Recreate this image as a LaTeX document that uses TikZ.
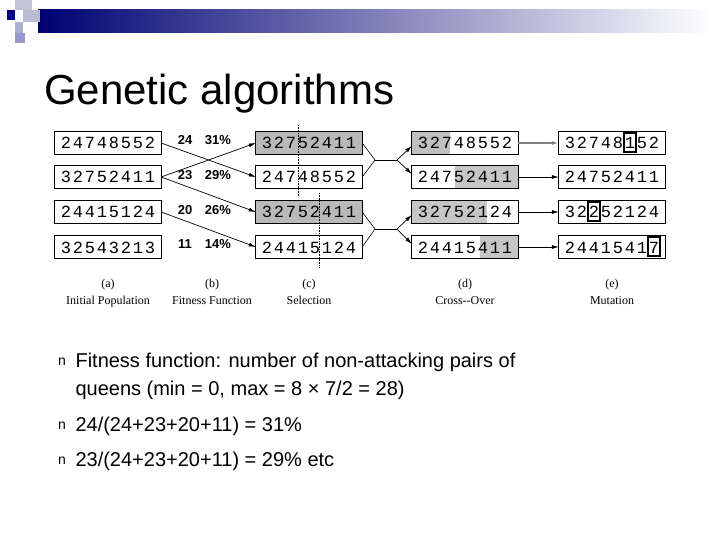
\documentclass[tikz,border=0pt]{standalone}
\usepackage{fontspec}
\setmainfont{Liberation Sans}
\newfontfamily\monof{Liberation Mono}
\newfontfamily\serf{Liberation Serif}
\usetikzlibrary{arrows.meta,calc}
\newcommand\digs[2]{\foreach \d [count=\i] in {#2}{\node[font=\monof\fontsize{17}{17}\selectfont,inner sep=0pt,anchor=base] at ($(#1)+(\i*12-54,6)$) {\d};}}
\begin{document}
\begin{tikzpicture}[x=1pt,y=-1pt,
  gbox/.style={minimum width=106pt,minimum height=22pt,inner sep=0pt},
  arr/.style={-{Latex[length=7pt,width=4pt]},line width=0.7pt},
  captxt/.style={font=\serf\fontsize{12}{13}\selectfont,anchor=base,inner sep=0pt},
  fittxt/.style={font=\bfseries\fontsize{13}{14}\selectfont,anchor=base,inner sep=0pt},
  bul/.style={font=\fontsize{20}{24}\selectfont,anchor=base west}]
\useasboundingbox (0,0) rectangle (720,540);
% header bar
\shade[left color=blue!45!black,right color=white] (38,10) rectangle (712,33);
\fill[blue!15!gray!40] (15,0) rectangle (32,10);
\fill[blue!20!gray!45] (23,10) rectangle (40,22);
\fill[blue!55!black] (7,10) rectangle (15,20);
\fill[blue!25!gray!50] (15,22) rectangle (23,33);
\fill[blue!35!gray!60] (15,33) rectangle (25,43);
\node[anchor=base west,font=\fontsize{42}{44}\selectfont,inner sep=0pt] (title) at (44,105) {Genetic algorithms};
% columns
\foreach \r/\y in {1/143,2/177,3/212,4/247}{
  \node[gbox] (a\r) at (108,\y) {};
  \node[gbox] (c\r) at (309,\y) {};
  \node[gbox] (d\r) at (465,\y) {};
  \node[gbox] (e\r) at (612,\y) {};
}
\fill[gray!55] (c1.north west) rectangle (c1.south east);
\fill[gray!55] (c3.north west) rectangle (c3.south east);
\fill[gray!50] (d1.north west) rectangle ([xshift=38pt]d1.south west);
\fill[gray!45] ([xshift=-63pt]d2.north east) rectangle (d2.south east);
\fill[gray!45] (d3.north west) rectangle ([xshift=75pt]d3.south west);
\fill[gray!45] ([xshift=-38pt]d4.north east) rectangle (d4.south east);
\foreach \r in {1,...,4}{\foreach \c in {a,c,d,e}{\draw[line width=0.8pt] (\c\r.north west) rectangle (\c\r.south east);}}
% digits
\digs{a1}{2,4,7,4,8,5,5,2}
\digs{a2}{3,2,7,5,2,4,1,1}
\digs{a3}{2,4,4,1,5,1,2,4}
\digs{a4}{3,2,5,4,3,2,1,3}
\digs{c1}{3,2,7,5,2,4,1,1}
\digs{c2}{2,4,7,4,8,5,5,2}
\digs{c3}{3,2,7,5,2,4,1,1}
\digs{c4}{2,4,4,1,5,1,2,4}
\digs{d1}{3,2,7,4,8,5,5,2}
\digs{d2}{2,4,7,5,2,4,1,1}
\digs{d3}{3,2,7,5,2,1,2,4}
\digs{d4}{2,4,4,1,5,4,1,1}
\digs{e1}{3,2,7,4,8,1,5,2}
\digs{e2}{2,4,7,5,2,4,1,1}
\digs{e3}{3,2,2,5,2,1,2,4}
\digs{e4}{2,4,4,1,5,4,1,7}
\draw[line width=1.4pt] ($(e1)+(12*6-54-6,-10)$) rectangle ++(12,19);
\draw[line width=1.4pt] ($(e3)+(12*3-54-6,-10)$) rectangle ++(12,19);
\draw[line width=1.4pt] ($(e4)+(12*8-54-6,-10)$) rectangle ++(12,19);
% dashed cut lines
\draw[densely dotted,line width=0.6pt] (298,125) -- (298,197);
\draw[densely dotted,line width=0.6pt] (319,193) -- (319,268);
% fitness
\foreach \r/\f/\p in {1/24/31\%,2/23/29\%,3/20/26\%,4/11/14\%}{
  \node[fittxt] at (185,\r*34.7+110) {\f};
  \node[fittxt] at (218,\r*34.7+110) {\p};
}
% selection arrows
\draw[arr] (a1.east) -- (c2.west);
\draw[arr] (a2.east) -- (c1.west);
\draw[arr] (a2.east) -- (c3.west);
\draw[arr] (a3.east) -- (c4.west);
% crossover
\foreach \u/\l/\m in {1/2/160,3/4/229}{
  \coordinate (j\u) at (375,\m);
  \coordinate (k\u) at (397,\m);
  \draw[line width=0.6pt] (c\u.east) -- (j\u) -- (c\l.east);
  \draw[line width=0.6pt] (j\u) -- (k\u);
  \draw[arr] (k\u) -- ([yshift=-3pt]d\u.west);
  \draw[arr] (k\u) -- ([yshift=3pt]d\l.west);
}
\draw[arr,line width=1.4pt,gray] (d1.east) -- (e1.west);
\foreach \r in {2,3,4}{\draw[arr] (d\r.east) -- (e\r.west);}
% captions
\foreach \x/\a/\t in {108/(a)/Initial Population,212/(b)/Fitness Function,309/(c)/Selection,465/(d)/Cross--Over,612/(e)/Mutation}{
  \node[captxt] at (\x,287) {\a};
  \node[captxt] at (\x,304) {\t};
}
% bullets
\foreach \y in {367,431,466}{\node[font=\fontsize{14}{14}\selectfont,anchor=base] at (62,\y-2) {n};}
\node[bul] (t1) at (72,367) {Fitness function: number of non-attacking pairs of};
\node[bul] (t2) at (72,395) {queens (min = 0, max = 8 × 7/2 = 28)};
\node[bul] (t3) at (72,431) {24/(24+23+20+11) = 31\%};
\node[bul] (t4) at (72,466) {23/(24+23+20+11) = 29\% etc};
\end{tikzpicture}
\end{document}
